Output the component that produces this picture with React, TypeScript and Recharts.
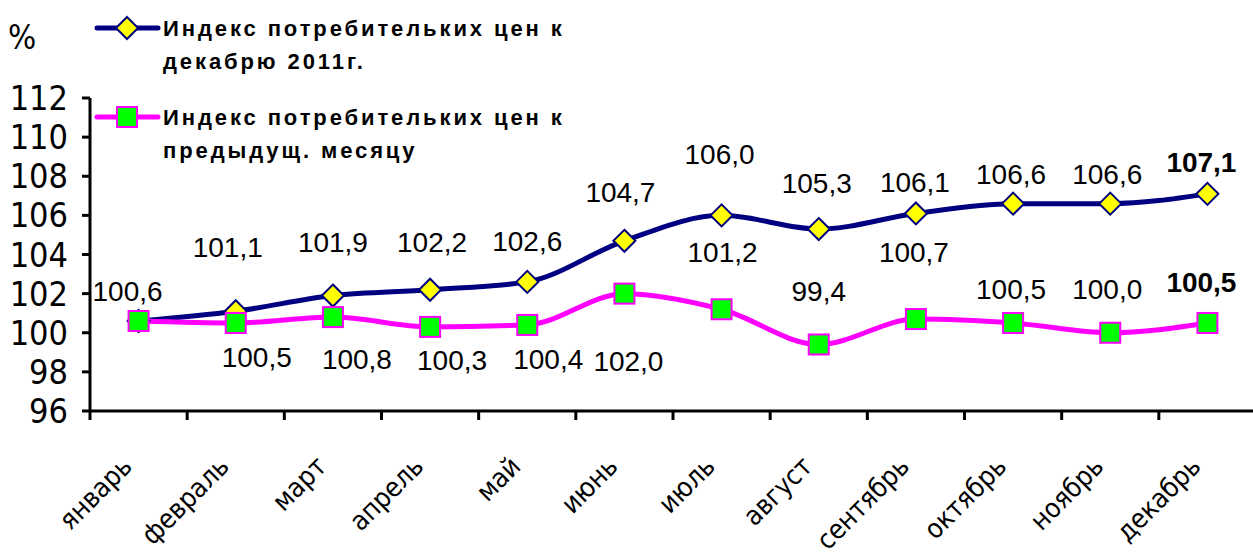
import { LabelList, Legend, Line, LineChart, XAxis, YAxis } from "recharts";

const months = [
  "январь",
  "февраль",
  "март",
  "апрель",
  "май",
  "июнь",
  "июль",
  "август",
  "сентябрь",
  "октябрь",
  "ноябрь",
  "декабрь",
];

// индекс к декабрю 2011г.
const cpiToDec = [100.6, 101.1, 101.9, 102.2, 102.6, 104.7, 106.0, 105.3, 106.1, 106.6, 106.6, 107.1];
// индекс к предыдущему месяцу
const cpiToPrev = [100.6, 100.5, 100.8, 100.3, 100.4, 102.0, 101.2, 99.4, 100.7, 100.5, 100.0, 100.5];

const yTicks = [96, 98, 100, 102, 104, 106, 108, 110, 112];

const legendLines = [
  ["Индекс потребительких цен к", "декабрю 2011г."],
  ["Индекс потребительких цен к", "предыдущ. месяцу"],
];

// where each value label sits relative to its point [dx, dy]
const decLabelShift = [
  [-11, -30], [-8, -64], [0, -53], [2, -47], [0, -40], [-4, -48],
  [-2, -61], [-2, -46], [-1, -31], [-2, -29], [-3, -29], [-6, -31],
];
const prevLabelShift = [
  null, [21, 35], [24, 42], [22, 34], [21, 35], [4, 68],
  [1, -57], [0, -53], [-2, -67], [-2, -33], [-3, -43], [-6, -40],
];

const data = months.map((m, i) => ({
  x: i + 0.5,
  month: m,
  dec: cpiToDec[i],
  prev: cpiToPrev[i],
}));

const xTicks = months.flatMap((_, i) => [i, i + 0.5]).concat(months.length);

const NAVY = "#000080";
const MAGENTA = "#FF00FF";
const COND = "'DejaVu Sans Condensed', 'DejaVu Sans', sans-serif";
const ARIAL = "'Liberation Sans', Arial, sans-serif";

const fmt = (v: number) => v.toFixed(1).replace(".", ",");

function Diamond({ cx, cy }: { cx: number; cy: number }) {
  const r = 11;
  return (
    <polygon
      points={`${cx},${cy - r} ${cx + r},${cy} ${cx},${cy + r} ${cx - r},${cy}`}
      fill="#FFFF00"
      stroke={NAVY}
      strokeWidth={2}
    />
  );
}

function Square({ cx, cy }: { cx: number; cy: number }) {
  const s = 20;
  return (
    <rect x={cx - s / 2} y={cy - s / 2} width={s} height={s} fill="#00FF00" stroke={MAGENTA} strokeWidth={2} />
  );
}

function valueLabel(shifts: (number[] | null)[]) {
  return (props: any) => {
    const { x, y, value, index } = props;
    const sh = shifts[index];
    if (!sh) return null;
    const last = index === months.length - 1;
    return (
      <text
        key={`lbl-${index}`}
        x={Number(x) + sh[0]}
        y={Number(y) + sh[1]}
        textAnchor="middle"
        dominantBaseline="central"
        fontFamily={ARIAL}
        fontSize={28}
        fontWeight={last ? "bold" : "normal"}
        fill="#000"
      >
        {fmt(Number(value))}
      </text>
    );
  };
}

function MonthTick(props: any) {
  const { x, y, payload } = props;
  const v = Number(payload.value);
  if (Number.isInteger(v)) {
    return <line x1={x} y1={y} x2={x} y2={y + 9} stroke="#000" strokeWidth={3} />;
  }
  const ax = x - 5;
  const ay = y + 57;
  return (
    <text
      x={ax}
      y={ay}
      textAnchor="end"
      transform={`rotate(-45, ${ax}, ${ay})`}
      fontFamily={COND}
      fontSize={27}
      fill="#000"
    >
      {months[Math.floor(v)]}
    </text>
  );
}

function LegendBox() {
  const rows = [
    { y: 28, color: NAVY, marker: "diamond" },
    { y: 117, color: MAGENTA, marker: "square" },
  ];
  return (
    <svg width={600} height={175}>
      {rows.map((r, i) => (
        <g key={i}>
          <line x1={97} y1={r.y} x2={158} y2={r.y} stroke={r.color} strokeWidth={5} strokeLinecap="round" />
          {r.marker === "diamond" ? <Diamond cx={127} cy={r.y} /> : <Square cx={127} cy={r.y} />}
          {legendLines[i].map((t, j) => (
            <text
              key={j}
              x={163}
              y={r.y + j * 33}
              dominantBaseline="central"
              fontFamily={ARIAL}
              fontWeight="bold"
              fontSize={22}
              letterSpacing={2.9}
              fill="#000"
            >
              {t}
            </text>
          ))}
        </g>
      ))}
    </svg>
  );
}

export default function App() {
  return (
    <div
      style={{
        position: "absolute",
        left: 0,
        top: 0,
        width: 1253,
        height: 555,
        overflow: "hidden",
        background: "#fff",
      }}
    >
      <div
        style={{
          position: "absolute",
          left: 8,
          top: 21,
          fontFamily: COND,
          fontSize: 33,
          lineHeight: 1,
          zIndex: 2,
        }}
      >
        %
      </div>
      <LineChart width={1270} height={555} data={data} margin={{ top: 98, right: 14, bottom: 0, left: 0 }}>
        <XAxis
          dataKey="x"
          type="number"
          domain={[0, months.length]}
          ticks={xTicks}
          interval={0}
          tickLine={false}
          tickSize={0}
          tickMargin={0}
          tick={<MonthTick />}
          axisLine={{ stroke: "#000", strokeWidth: 3 }}
          height={144}
        />
        <YAxis
          domain={[96, 112]}
          ticks={yTicks}
          interval={0}
          width={90}
          tickSize={8}
          tickMargin={14}
          tickLine={{ stroke: "#000", strokeWidth: 3 }}
          axisLine={{ stroke: "#000", strokeWidth: 3 }}
          tick={{ fontFamily: COND, fontSize: 34, fill: "#000" }}
        />
        <Legend
          layout="vertical"
          align="center"
          verticalAlign="middle"
          content={() => <LegendBox />}
          wrapperStyle={{ position: "absolute", left: 0, top: 0, width: 600, height: 175 }}
        />
        <Line
          dataKey="dec"
          type="monotone"
          stroke={NAVY}
          strokeWidth={5}
          isAnimationActive={false}
          dot={(p: any) => <Diamond key={`d-${p.index}`} cx={p.cx} cy={p.cy} />}
          activeDot={false}
        >
          <LabelList dataKey="dec" content={valueLabel(decLabelShift)} />
        </Line>
        <Line
          dataKey="prev"
          type="monotone"
          stroke={MAGENTA}
          strokeWidth={5}
          isAnimationActive={false}
          dot={(p: any) => <Square key={`s-${p.index}`} cx={p.cx} cy={p.cy} />}
          activeDot={false}
        >
          <LabelList dataKey="prev" content={valueLabel(prevLabelShift)} />
        </Line>
      </LineChart>
    </div>
  );
}
